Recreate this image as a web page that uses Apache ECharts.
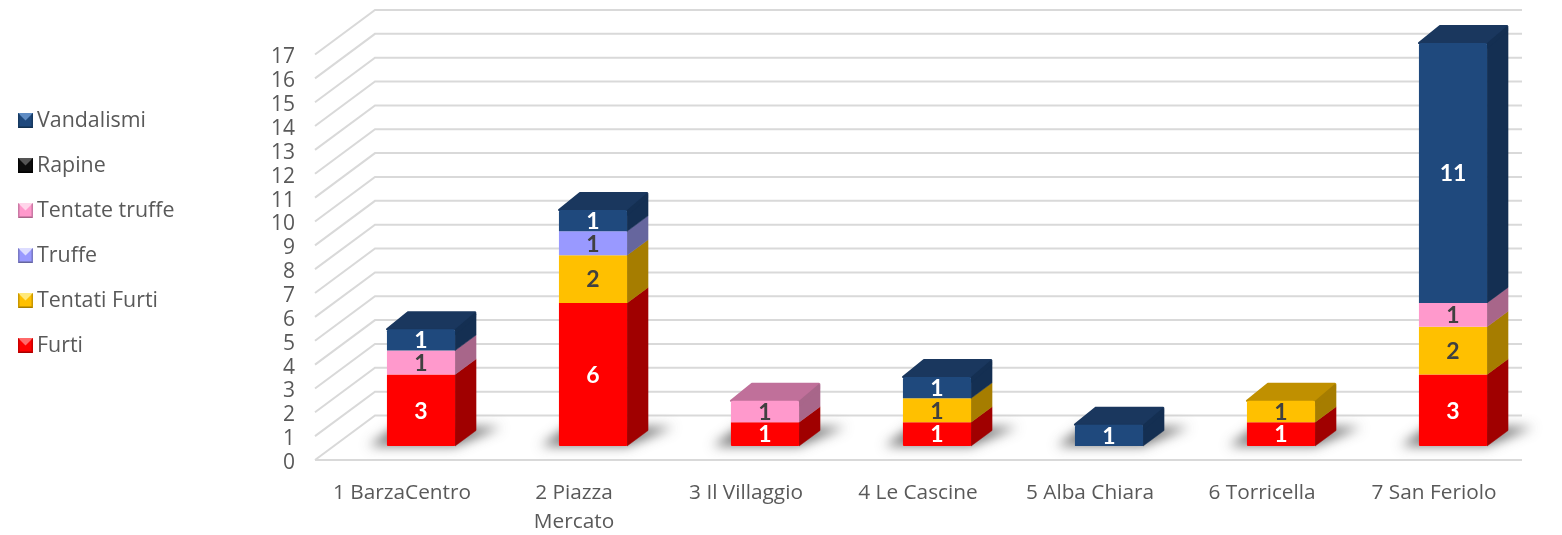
<!DOCTYPE html>
<html><head><meta charset="utf-8">
<style>html,body{margin:0;padding:0;background:#fff}#c{width:1562px;height:535px}</style>
<script src="https://cdn.jsdelivr.net/npm/echarts@6/dist/echarts.min.js"></script>
</head><body><div id="c"></div>
<script>
const categories = ['1 BarzaCentro','2 Piazza\nMercato','3 Il Villaggio','4 Le Cascine','5 Alba Chiara','6 Torricella','7 San Feriolo'];
const yTicks = [0,1,2,3,4,5,6,7,8,9,10,11,12,13,14,15,16,17];
const furti = [3,6,1,1,0,1,3];
const tentatiFurti = [0,2,0,1,0,1,2];
const truffe = [0,1,0,0,0,0,0];
const tentateTruffe = [1,0,1,0,0,0,1];
const rapine = [0,0,0,0,0,0,0];
const vandalismi = [1,1,0,1,1,0,11];

const stack = [
  {name:'Furti', values:furti, front:'#FF0000', side:'#A00000', top:'#C00000', label:'#FFFFFF', hi:'#FF6A6A', lo:'#A80000'},
  {name:'Tentati Furti', values:tentatiFurti, front:'#FFC000', side:'#A67D00', top:'#C09000', label:'#404040', hi:'#FFE97A', lo:'#A67D00'},
  {name:'Truffe', values:truffe, front:'#9999FF', side:'#66669E', top:'#7A7AC4', label:'#404040', hi:'#DDDDFF', lo:'#66669E'},
  {name:'Tentate truffe', values:tentateTruffe, front:'#FF99CC', side:'#A8668A', top:'#C0709A', label:'#404040', hi:'#FFD5EA', lo:'#A8668A'},
  {name:'Rapine', values:rapine, front:'#0D0D0D', side:'#000000', top:'#050505', label:'#FFFFFF', hi:'#555555', lo:'#000000'},
  {name:'Vandalismi', values:vandalismi, front:'#1F497D', side:'#142F52', top:'#1A375E', label:'#FFFFFF', hi:'#5F8CC4', lo:'#13304F'}
];
const totals = categories.map((_,i)=>stack.reduce((s,d)=>s+d.values[i],0));

const FX = 19, FY = 14;      // bar front offset from the axis plane
const DX = 21, DY = 15.5;    // bar depth
const WX = 60, WY = 44.5;    // wall depth
const BEVEL = 2.5;           // how far the top face's rounded edge eats into the front
const BAR_FRAC = 0.396;
const OFF = 4000;            // the floor shadow's caster sits off-canvas so only its blur shows

function bevelIcon(d){
  const svg = `<svg xmlns="http://www.w3.org/2000/svg" width="15" height="15" viewBox="0 0 15 15">
<rect width="15" height="15" fill="${d.front}"/>
<polygon points="0,0 15,0 7.5,7.5" fill="${d.hi}"/>
<polygon points="0,15 15,15 13.5,13.5 1.5,13.5" fill="${d.lo}"/>
<polygon points="0,0 1.5,1.5 1.5,13.5 0,15" fill="${d.lo}" opacity="0.6"/>
<polygon points="15,0 13.5,1.5 13.5,13.5 15,15" fill="${d.lo}" opacity="0.6"/>
</svg>`;
  return 'image://data:image/svg+xml;charset=utf-8,' + encodeURIComponent(svg);
}

function barItem(d, k){
  return function(params, api){
    const i = api.value(0), v = api.value(1);
    if(!v) return null;
    let base = 0;
    for(let j=0;j<k;j++) base += stack[j].values[i];
    const band = api.size([1,0])[0];
    const w = band*BAR_FRAC;
    const c0 = api.coord([i, base]), c1 = api.coord([i, base+v]);
    const x0 = c0[0]-w/2+FX, x1 = x0+w;
    const yB = c0[1]-FY, yT = c1[1]-FY;
    const isTop = base+v === totals[i];
    const yF = isTop ? yT+BEVEL : yT;     // visible upper edge of the front face
    const kids = [];
    kids.push({type:'polygon', shape:{points:[[x1,yB],[x1,yF],[x1+DX,yT-DY+(isTop?1:0)],[x1+DX,yB-DY]]},
      style:{fill:d.side, stroke:d.side, lineWidth:0.5}});
    if(isTop){
      kids.push({type:'polygon', shape:{points:[[x0,yF],[x1,yF],[x1+DX-1,yT-DY+1],[x0+DX,yT-DY+1]]},
        style:{fill:d.top, stroke:d.top, lineWidth:2, lineJoin:'round'}});
      kids.push({type:'polygon', shape:{points:[[x1,yF],[x1+DX-1,yT-DY+1],[x1+DX,yT-DY+3],[x1+DX,yT-DY+6],[x1,yF+6]]},
        style:{fill:d.side}});
    }
    kids.push({type:'rect', shape:{x:x0,y:yF,width:w,height:yB-yF, r:isTop?[2,2,0,0]:(base===0?[0,0,1,1]:0)}, style:{fill:d.front}});
    kids.push({type:'text', style:{x:(x0+x1)/2, y:(yB+yF)/2+1, text:String(v), fill:d.label,
      font:'bold 23px Lato, "Open Sans", sans-serif', align:'center', verticalAlign:'middle'}});
    return {type:'group', children:kids};
  };
}

const option = {
  animation:false,
  backgroundColor:'#fff',
  grid:{left:316, right:42, top:54.5, bottom:75, containLabel:false, outerBoundsMode:'none'},
  legend:{
    orient:'vertical', left:13, top:105, itemWidth:15, itemHeight:15, itemGap:24, selectedMode:false,
    textStyle:{color:'#595959', fontSize:21.4, lineHeight:20, fontFamily:'"Open Sans", sans-serif', padding:[0,0,0,-1]},
    data:stack.slice().reverse().map(d=>({name:d.name, icon:bevelIcon(d)}))
  },
  xAxis:{type:'category', data:categories,
    axisLine:{show:false}, axisTick:{show:false}, splitLine:{show:false},
    axisLabel:{color:'#595959', fontSize:20.8, fontFamily:'"Open Sans", sans-serif', margin:19, lineHeight:29, interval:0}},
  yAxis:{type:'value', min:0, max:17, interval:1,
    axisLine:{show:false}, axisTick:{show:false}, splitLine:{show:false},
    axisLabel:{color:'#595959', fontSize:21, fontFamily:'"Open Sans", sans-serif', margin:21, verticalAlign:'top', lineHeight:6}},
  series:[
    {type:'custom', name:'grid', silent:true, z:1, coordinateSystem:'cartesian2d',
      data:yTicks.map(v=>[0,v]),
      renderItem(params, api){
        const cs = params.coordSys, v = api.value(1), y = api.coord([0,v])[1];
        const l = cs.x-1, r = cs.x+cs.width+2;
        const kids = [{type:'polyline', shape:{points:[[l,y],[l+WX,y-WY],[r,y-WY]]},
          style:{fill:'none', stroke:'#D9D9D9', lineWidth:2}}];
        if(v===0) kids.push({type:'line', shape:{x1:l,y1:y,x2:r,y2:y}, style:{stroke:'#D9D9D9', lineWidth:2}});
        return {type:'group', children:kids};
      }},
    {type:'custom', name:'shadow', silent:true, z:2, coordinateSystem:'cartesian2d',
      data:totals.map((t,i)=>[i,t]),
      renderItem(params, api){
        const i = api.value(0);
        const band = api.size([1,0])[0], w = band*BAR_FRAC;
        const c = api.coord([i,0]);
        const x0 = c[0]-w/2+FX, x1 = x0+w, y = c[1]-FY;
        const pts = [[x0-18,y],[x1,y],[x1+46,y-19],[x0+8,y-19]].map(p=>[p[0]-OFF,p[1]]);
        return {type:'polygon', shape:{points:pts},
          style:{fill:'#000', shadowBlur:12, shadowColor:'rgba(95,95,95,0.85)', shadowOffsetX:OFF}};
      }},
    ...stack.map((d,k)=>({type:'custom', name:d.name, z:3+k, coordinateSystem:'cartesian2d',
      itemStyle:{color:d.front},
      data:d.values.map((v,i)=>[i,v]),
      renderItem:barItem(d,k)}))
  ]
};
const chart = echarts.init(document.getElementById('c'), null, {renderer:'canvas'});
chart.setOption(option);
</script></body></html>
